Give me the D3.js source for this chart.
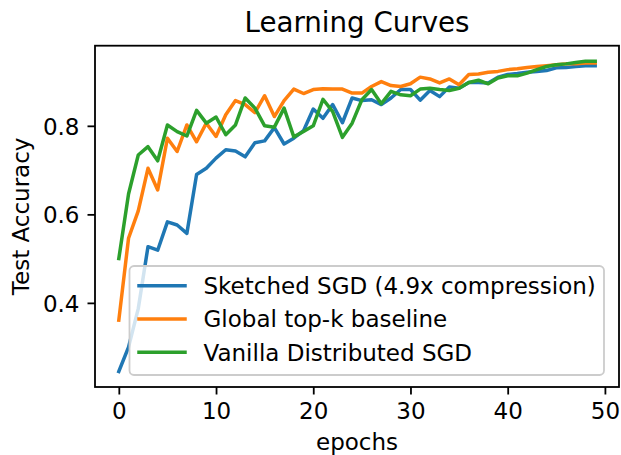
<!DOCTYPE html>
<html>
<head>
<meta charset="utf-8">
<script src="https://cdn.jsdelivr.net/npm/d3@7"></script>
<style>
  html, body { margin: 0; padding: 0; background: #fff; }
  svg { display: block; font-family: "DejaVu Sans", sans-serif; }
</style>
</head>
<body>
<div id="chart"></div>
<script>
// ------------------------------------------------------------
// Data
// ------------------------------------------------------------
const seriesNames = [
  "Sketched SGD (4.9x compression)",
  "Global top-k baseline",
  "Vanilla Distributed SGD"
];
const seriesColors = ["#1f77b4", "#ff7f0e", "#2ca02c"];

const sketchedSGD = [
  0.245, 0.300, 0.387, 0.527, 0.519, 0.583, 0.576, 0.557, 0.690, 0.704,
  0.727, 0.746, 0.743, 0.730, 0.762, 0.766, 0.796, 0.759, 0.772, 0.789,
  0.838, 0.817, 0.848, 0.807, 0.863, 0.857, 0.859, 0.848, 0.863, 0.882,
  0.882, 0.858, 0.880, 0.866, 0.888, 0.885, 0.898, 0.898, 0.897, 0.910,
  0.916, 0.918, 0.921, 0.923, 0.925, 0.931, 0.932, 0.934, 0.936, 0.936
];
const globalTopK = [
  0.361, 0.546, 0.608, 0.704, 0.655, 0.772, 0.742, 0.802, 0.764, 0.806,
  0.776, 0.825, 0.857, 0.848, 0.830, 0.868, 0.821, 0.857, 0.883, 0.873,
  0.882, 0.884, 0.883, 0.883, 0.874, 0.874, 0.889, 0.900, 0.891, 0.889,
  0.895, 0.910, 0.906, 0.897, 0.906, 0.893, 0.916, 0.917, 0.921, 0.923,
  0.927, 0.929, 0.932, 0.934, 0.936, 0.938, 0.940, 0.940, 0.942, 0.942
];
const vanillaSGD = [
  0.500, 0.646, 0.734, 0.753, 0.721, 0.802, 0.787, 0.777, 0.835, 0.806,
  0.820, 0.780, 0.802, 0.863, 0.840, 0.800, 0.797, 0.840, 0.775, 0.787,
  0.800, 0.860, 0.832, 0.774, 0.806, 0.859, 0.882, 0.850, 0.878, 0.870,
  0.868, 0.883, 0.885, 0.882, 0.880, 0.885, 0.898, 0.903, 0.895, 0.908,
  0.913, 0.913, 0.919, 0.927, 0.934, 0.938, 0.940, 0.943, 0.946, 0.946
];
const allSeries = [sketchedSGD, globalTopK, vanillaSGD];

const xTicks = [0, 10, 20, 30, 40, 50];
const yTicks = [0.4, 0.6, 0.8];

// ------------------------------------------------------------
// Layout
// ------------------------------------------------------------
const width = 621, height = 455;
const margin = { top: 45.7, right: 2, bottom: 68, left: 95 };
const fontSize = 23;

const svg = d3.select("#chart").append("svg")
  .attr("width", width)
  .attr("height", height);

// matplotlib-like 5% margins
const nPts = sketchedSGD.length;
const xPad = (nPts - 1) * 0.05;
const yMin = d3.min(allSeries, s => d3.min(s));
const yMax = d3.max(allSeries, s => d3.max(s));
const yPad = (yMax - yMin) * 0.05;

const x = d3.scaleLinear()
  .domain([-xPad, nPts - 1 + xPad])
  .range([margin.left, width - margin.right]);

const y = d3.scaleLinear()
  .domain([yMin - yPad, yMax + yPad])
  .range([height - margin.bottom, margin.top]);

// Lines
const line = d3.line()
  .x((d, i) => x(i))
  .y(d => y(d));

allSeries.forEach((s, k) => {
  svg.append("path")
    .datum(s)
    .attr("fill", "none")
    .attr("stroke", seriesColors[k])
    .attr("stroke-width", 3.5)
    .attr("stroke-linejoin", "round")
    .attr("stroke-linecap", "square")
    .attr("d", line);
});

// Axes
const xAxis = svg.append("g")
  .attr("transform", `translate(0,${height - margin.bottom})`)
  .call(d3.axisBottom(x).tickValues(xTicks).tickSize(7.5).tickPadding(8).tickFormat(d3.format("d")));

const yAxis = svg.append("g")
  .attr("transform", `translate(${margin.left},0)`)
  .call(d3.axisLeft(y).tickValues(yTicks).tickSize(7.5).tickPadding(8).tickFormat(d3.format(".1f")));

[xAxis, yAxis].forEach(g => {
  g.select(".domain").remove();
  g.selectAll(".tick line").attr("stroke", "#000").attr("stroke-width", 1.8);
  g.selectAll(".tick text")
    .attr("fill", "#000")
    .style("font-family", "'DejaVu Sans', sans-serif")
    .style("font-size", fontSize + "px");
});
yAxis.selectAll(".tick text").attr("dy", "0.36em");

// Frame
svg.append("rect")
  .attr("x", margin.left)
  .attr("y", margin.top)
  .attr("width", width - margin.right - margin.left)
  .attr("height", height - margin.bottom - margin.top)
  .attr("fill", "none")
  .attr("stroke", "#000")
  .attr("stroke-width", 1.8);

// Title and labels
svg.append("text")
  .attr("x", (margin.left + width - margin.right) / 2)
  .attr("y", 32)
  .attr("text-anchor", "middle")
  .style("font-size", "27.7px")
  .text("Learning Curves");

svg.append("text")
  .attr("x", (margin.left + width - margin.right) / 2)
  .attr("y", 450)
  .attr("text-anchor", "middle")
  .style("font-size", fontSize + "px")
  .text("epochs");

svg.append("text")
  .attr("transform", `translate(29,${(margin.top + height - margin.bottom) / 2}) rotate(-90)`)
  .attr("text-anchor", "middle")
  .style("font-size", fontSize + "px")
  .text("Test Accuracy");

// Legend
const legend = svg.append("g").attr("transform", "translate(129.5,266)");
legend.append("rect")
  .attr("width", 474.5)
  .attr("height", 109)
  .attr("rx", 4.5)
  .attr("fill", "#fff")
  .attr("fill-opacity", 0.8)
  .attr("stroke", "#cccccc")
  .attr("stroke-width", 1.8);

seriesNames.forEach((name, k) => {
  const cy = 19.7 + k * 33.3;
  legend.append("line")
    .attr("x1", 9.5).attr("x2", 55.5)
    .attr("y1", cy).attr("y2", cy)
    .attr("stroke", seriesColors[k])
    .attr("stroke-width", 3.5)
    .attr("stroke-linecap", "square");
  legend.append("text")
    .attr("x", 74)
    .attr("y", cy)
    .attr("dy", "0.36em")
    .style("font-size", fontSize + "px")
    .text(name);
});
</script>
</body>
</html>
